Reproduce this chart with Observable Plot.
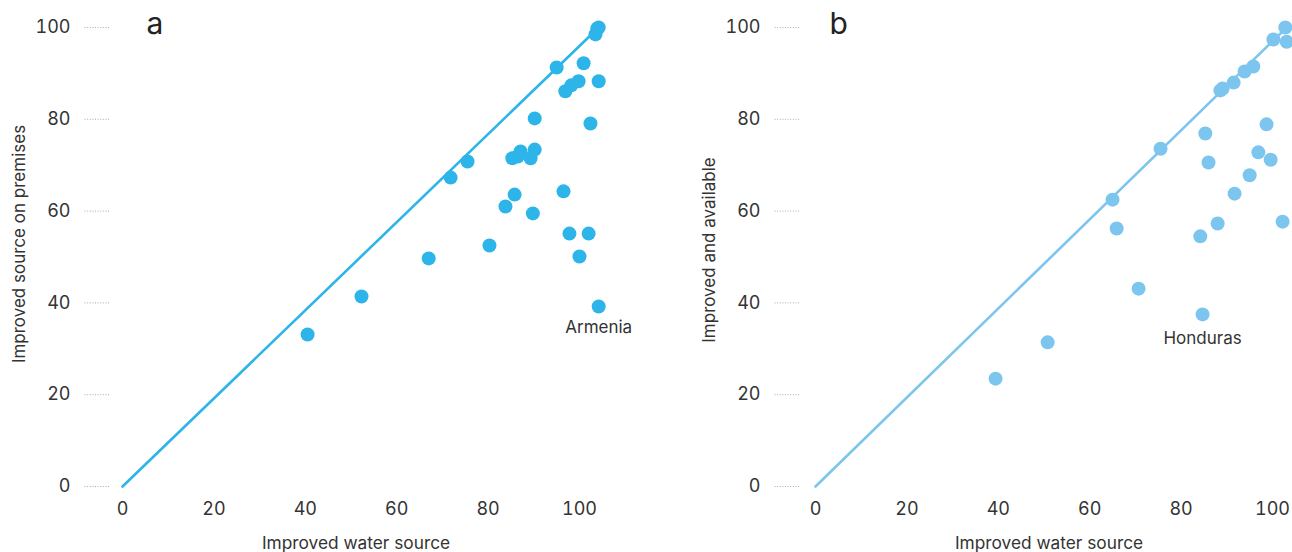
<!DOCTYPE html>
<html>
<head>
<meta charset="utf-8">
<script src="https://cdn.jsdelivr.net/npm/d3@7"></script>
<script src="https://cdn.jsdelivr.net/npm/@observablehq/plot@0.6"></script>
<style>
  html, body { margin: 0; padding: 0; background: #fff; }
  #wrap { display: flex; width: 1292px; height: 552px; overflow: hidden; }
  #wrap > div { width: 646px; height: 552px; }
</style>
</head>
<body>
<div id="wrap"><div id="pa"></div><div id="pb"></div></div>
<script>
// Panel a: improved water source vs improved source on premises
const aX = [40.5, 52.3, 67.0, 71.8, 75.5, 80.3, 83.8, 85.8, 85.3, 86.5, 87.1, 89.3, 90.2, 90.2, 89.8, 96.5, 97.8, 102.0, 100.0, 104.2, 104.2, 103.5, 103.9, 95.0, 100.9, 96.9, 98.2, 99.8, 104.2, 102.4];
const aY = [33.1, 41.4, 49.7, 67.3, 70.8, 52.5, 61.0, 63.6, 71.5, 71.9, 73.0, 71.5, 73.4, 80.2, 59.5, 64.3, 55.1, 55.1, 50.1, 39.2, 100.0, 98.5, 99.8, 91.3, 92.2, 86.1, 87.4, 88.3, 88.3, 79.1];
const aNames = ["","","","","","","","","","","","","","","","","","","","Armenia","","","","","","","","","",""];

// Panel b: improved water source vs improved and available
const bX = [102.8, 100.2, 103.1, 95.8, 93.9, 91.5, 89.1, 88.6, 75.5, 65.0, 85.3, 98.7, 86.0, 96.9, 99.6, 95.0, 91.7, 65.9, 102.2, 88.0, 84.2, 70.7, 84.7, 39.4, 50.8];
const bY = [100.0, 97.4, 96.9, 91.5, 90.4, 88.0, 86.7, 86.3, 73.6, 62.5, 76.9, 78.9, 70.6, 72.8, 71.2, 67.8, 63.8, 56.2, 57.7, 57.3, 54.5, 43.1, 37.5, 23.5, 31.4];
const bNames = ["","","","","","","","","","","","","","","","","","","","","","","Honduras","",""];

const tickValues = [0, 20, 40, 60, 80, 100];
const xTitle = "Improved water source";
const aYTitle = "Improved source on premises";
const bYTitle = "Improved and available";

const colorA = "#2db4e8";
const colorB = "#7cc5ee";
const textColor = "#333";
const font = "Inter, 'Noto Sans', sans-serif";

function rows(xs, ys, names) {
  return xs.map((x, i) => ({x, y: ys[i], name: names[i]}));
}

function panel({data, color, letter, letterDx, yTitle, marginLeft, marginRight, yDx, yTickSize, yPad, yTitleDx, yTitleDy, labelDy}) {
  const maxX = d3.max(data, d => d.x);
  const diag = [{x: 0, y: 0}, {x: maxX, y: 100}];
  return Plot.plot({
    width: 646,
    height: 552,
    marginTop: 27,
    marginBottom: 66,
    marginLeft,
    marginRight,
    style: {fontFamily: font, color: textColor, background: "transparent", overflow: "visible"},
    x: {domain: [0, 100]},
    y: {domain: [0, 100]},
    marks: [
      Plot.axisY(tickValues, {
        tickSize: yTickSize, tickPadding: yPad, dx: yDx, fontSize: 18,
        stroke: "#aaa", strokeDasharray: "1,1.6", fill: textColor, label: null
      }),
      Plot.axisX(tickValues, {tickSize: 0, tickPadding: 16, fontSize: 18, fill: textColor, label: null}),
      Plot.line(diag, {x: "x", y: "y", stroke: color, strokeWidth: 2.6}),
      Plot.dot(data, {x: "x", y: "y", r: 7, fill: color}),
      Plot.text(data.filter(d => d.name), {x: "x", y: "y", text: "name", dy: labelDy, fontSize: 17, fill: textColor}),
      Plot.text([letter], {frameAnchor: "top-left", text: d => d, dx: letterDx, dy: 6, lineAnchor: "bottom", textAnchor: "start", fontSize: 30, fill: "#222"}),
      Plot.text([yTitle], {frameAnchor: "left", text: d => d, rotate: -90, textAnchor: "middle", lineAnchor: "middle", dx: yTitleDx, dy: yTitleDy, fontSize: 17, fill: textColor}),
      Plot.text([xTitle], {frameAnchor: "bottom", text: d => d, textAnchor: "middle", dx: 5, dy: 62, fontSize: 17.3, fill: textColor})
    ]
  });
}

document.getElementById("pa").append(panel({
  data: rows(aX, aY, aNames), color: colorA, letter: "a", letterDx: 24,
  yTitle: aYTitle, marginLeft: 122, marginRight: 67,
  yDx: -13, yTickSize: 25, yPad: 14, yTitleDx: -103, yTitleDy: -13, labelDy: 21
}));
document.getElementById("pb").append(panel({
  data: rows(bX, bY, bNames), color: colorB, letter: "b", letterDx: 14,
  yTitle: bYTitle, marginLeft: 169, marginRight: 20,
  yDx: -16, yTickSize: 26, yPad: 13, yTitleDx: -106, yTitleDy: -7, labelDy: 24
}));
</script>
</body>
</html>
